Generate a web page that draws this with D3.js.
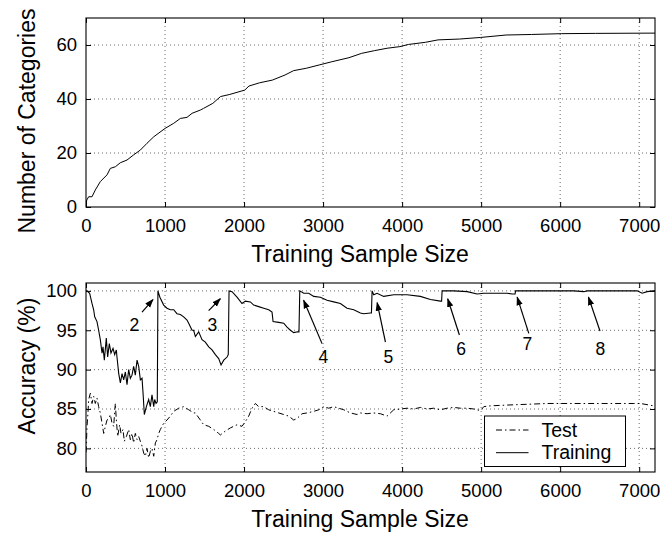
<!DOCTYPE html>
<html><head><meta charset="utf-8">
<script src="https://cdn.jsdelivr.net/npm/d3@7"></script>
<style>
body{margin:0;background:#fff;}
svg{display:block;font-family:"Liberation Sans",Arial,Helvetica,sans-serif;}
</style></head>
<body>
<svg id="chart" width="663" height="533"></svg>
<script>
// ---------- data ----------
const xTicks = [0,1000,2000,3000,4000,5000,6000,7000];
const catTicks = [0,20,40,60];
const accTicks = [80,85,90,95,100];

const catN = [0,10,34,76,118,181,266,308,371,435,519,603,688,772,857,1000,1110,1194,1278,1342,1447,1486,1605,1702,1820,2009,2062,2196,2358,2519,2627,2789,2950,3111,3327,3487,3649,3810,3972,4080,4295,4456,4725,4994,5316,5639,6016,6447,7200];
const catV = [1,2.6,3.8,3.8,6.3,9.4,11.9,14.3,14.9,16.4,17.4,19.3,21.1,23.6,26,29.1,31,32.8,33.2,34.7,35.9,36.5,38.4,40.9,41.7,43.3,44.8,46,47,48.9,50.5,51.4,52.6,53.8,55.3,56.9,57.9,58.8,59.4,60.2,61,61.9,62.2,62.8,63.7,63.9,64.2,64.3,64.4];

const trainN = [0,13,46,76,97,110,139,160,181,203,215,232,257,274,295,316,342,363,384,392,414,435,456,477,498,519,540,561,582,603,624,646,667,688,709,722,738,764,793,814,835,857,869,886,902,910,935,983,1025,1067,1110,1151,1194,1236,1278,1299,1342,1362,1384,1426,1468,1510,1553,1595,1637,1679,1709,1743,1785,1800,1810,1848,1911,1974,2017,2080,2122,2185,2249,2312,2354,2367,2439,2502,2544,2586,2628,2679,2695,2705,2755,2818,2882,2966,3050,3135,3219,3303,3388,3472,3514,3598,3612,3620,3641,3683,3767,3894,4063,4231,4358,4485,4500,4506,4654,4823,4949,5034,5203,5330,5393,5430,5435,6174,6300,6340,6974,7037,7100,7185,7200];
const trainV = [100,100,99.7,98.4,97.6,96.7,96.1,95,93.8,92.1,92.9,91.2,94,91.6,93.3,92.1,92.7,91.9,92.5,91.6,89.5,88.3,89.5,88.7,89.7,88.1,90,88.9,89.3,90.4,89.3,91.2,90.4,88.7,88.9,87,84.3,85.3,86.2,85.3,86.8,85.3,86.2,85.7,85.9,100,99.2,98.2,97.8,97.6,97.6,97.1,97.0,96.7,96.3,95.9,95.0,95,94.2,94.8,93.8,93.5,92.9,92.5,91.9,91.4,90.6,91.2,91.6,91.9,100,99.9,99.2,98.4,98.7,98.6,98.2,98,97.8,97.6,97.3,96.1,96,95.9,95.4,95,94.7,94.8,94.8,100,99.7,99.7,99.3,99.2,98.8,98.6,98.4,97.8,97.6,97.2,97.1,97.2,97.2,100,99.5,99.7,99.3,99.5,99.5,99.3,98.9,98.7,98.7,100,100,99.9,99.6,99.7,99.7,99.7,99.6,99.6,100,100,99.9,100,100,99.7,99.9,100,100];

const testN = [0,4,13,25,34,55,76,97,118,139,160,181,203,224,245,266,287,308,329,350,371,384,401,426,443,468,485,511,540,561,582,603,624,646,667,688,709,730,751,772,793,814,835,857,878,899,920,941,983,1025,1067,1110,1173,1236,1300,1363,1383,1447,1489,1553,1616,1679,1700,1763,1827,1911,1974,2017,2059,2101,2143,2185,2249,2312,2375,2439,2502,2565,2628,2671,2734,2797,2882,2945,3008,3072,3135,3198,3262,3346,3430,3472,3557,3641,3725,3810,3894,3978,4063,4147,4232,4316,4400,4485,4569,4654,4738,4823,4907,4991,5034,5118,5330,5583,5836,6174,6511,6933,7017,7185,7200];
const testV = [79.5,80.3,82.8,84.5,86.2,87,85.7,86.6,85.7,86.4,85.3,84.5,83.2,81.9,82.8,83.6,83.8,84.3,83.2,82.8,85.7,83.6,81.5,83,81.9,82.4,80.9,81.5,82.4,81.1,81.9,80.7,81.9,81.1,81.5,80.9,80.3,79.4,79,80,78.8,79.6,80,79,80.7,81.1,81.9,82.4,83.2,83.6,84.1,84.7,85.1,85.3,84.9,84.5,84.5,83.6,83,82.8,82.4,81.9,81.7,82.2,82.6,83,82.8,83.4,84.1,85.1,85.7,85.3,85.3,84.9,84.7,84.5,84.3,84.1,83.6,83.8,84.4,84.5,84.7,84.9,85.3,85.1,85.3,85.1,84.9,84.5,84.3,84.5,84.4,84.5,84.4,84.1,84.9,85,85.1,85,85.2,85,85.1,84.9,85.1,85.2,85.1,85.1,85,84.8,85.3,85.4,85.5,85.6,85.7,85.7,85.7,85.7,85.7,85.4,85.3];

// annotations (data coordinates): label, label position, arrow tail, arrow head
const annLabels = ["2","3","4","5","6","7","8"];
const annTextN  = [611,1599,3004,3827,4747,5586,6510];
const annTextV  = [94.9,94.9,90.9,90.9,91.9,92.5,91.9];
const annTailN  = [709,1552,2987,3789,4725,5603,6504];
const annTailV  = [97.3,97.5,93.3,93.5,94.4,94.6,94.9];
const annHeadN  = [848,1700,2754,3684,4577,5456,6358];
const annHeadV  = [98.9,99.0,98.8,98.5,99.0,99.2,99.2];

const legendLabels = ["Test","Training"];

// ---------- drawing ----------
const svg = d3.select("#chart");
const L = 86, R = 655;
const x = d3.scaleLinear().domain([0,7200]).range([L,R]);
const yTop = d3.scaleLinear().domain([0,70]).range([207,18]);
const yBot = d3.scaleLinear().domain([77,101]).range([472,283]);
const tickFont = "18.5px", titleFont = "23px";
const dash = "6,3,1.5,3";

const defs = svg.append("defs");
defs.append("marker").attr("id","arr").attr("viewBox","0 0 10 10")
  .attr("refX",9).attr("refY",5).attr("markerWidth",9).attr("markerHeight",9)
  .attr("markerUnits","userSpaceOnUse").attr("orient","auto")
  .append("path").attr("d","M0,1.5 L10,5 L0,8.5 Z").attr("fill","#000");

function panel(y, yticks, id) {
  const g = svg.append("g");
  const [y0,y1] = y.range();
  defs.append("clipPath").attr("id",id).append("rect")
    .attr("x",L).attr("y",y1).attr("width",R-L).attr("height",y0-y1);
  const grid = g.append("g").attr("stroke","#444").attr("stroke-width",0.8).attr("stroke-dasharray","1,3");
  xTicks.filter(t=>t>0).forEach(t=>grid.append("line").attr("x1",x(t)).attr("x2",x(t)).attr("y1",y0).attr("y2",y1));
  yticks.filter(t=>y(t)<y0-1).forEach(t=>grid.append("line").attr("x1",L).attr("x2",R).attr("y1",y(t)).attr("y2",y(t)));
  const ax = d3.axisBottom(x).tickValues(xTicks).tickSize(-5).tickPadding(9).tickFormat(d3.format("d"));
  const gb = g.append("g").attr("transform",`translate(0,${y0})`).call(ax);
  const gt = g.append("g").attr("transform",`translate(0,${y1})`).call(d3.axisTop(x).tickValues(xTicks).tickSize(-5).tickFormat(""));
  const gl = g.append("g").attr("transform",`translate(${L},0)`).call(d3.axisLeft(y).tickValues(yticks).tickSize(-5).tickPadding(9));
  const gr = g.append("g").attr("transform",`translate(${R},0)`).call(d3.axisRight(y).tickValues(yticks).tickSize(-5).tickFormat(""));
  [gb,gt,gl,gr].forEach(a=>{
    a.select(".domain").remove();
    a.selectAll("line").attr("stroke","#000");
    a.selectAll("text").attr("font-size",tickFont).attr("fill","#000").attr("font-family","Liberation Sans, Arial, sans-serif");
  });
  gb.selectAll("text").attr("dy","0").attr("y",25);
  g.append("rect").attr("x",L).attr("y",y1).attr("width",R-L).attr("height",y0-y1)
    .attr("fill","none").attr("stroke","#000").attr("stroke-width",1.1);
  return g;
}

panel(yTop, catTicks, "clipTop");
panel(yBot, accTicks, "clipBot");

const catData = catN.map((n,i)=>[n,catV[i]]);
svg.append("path").datum(catData).attr("clip-path","url(#clipTop)")
  .attr("d", d3.line().x(d=>x(d[0])).y(d=>yTop(d[1])))
  .attr("fill","none").attr("stroke","#000").attr("stroke-width",1);

const trainData = trainN.map((n,i)=>[n,trainV[i]]);
const testData = testN.map((n,i)=>[n,testV[i]]);
const lineB = d3.line().x(d=>x(d[0])).y(d=>yBot(d[1]));
svg.append("path").datum(testData).attr("clip-path","url(#clipBot)")
  .attr("d",lineB).attr("fill","none").attr("stroke","#000").attr("stroke-width",1).attr("stroke-dasharray",dash);
svg.append("path").datum(trainData).attr("clip-path","url(#clipBot)")
  .attr("d",lineB).attr("fill","none").attr("stroke","#000").attr("stroke-width",1.1);

annLabels.forEach((lab,i)=>{
  svg.append("line").attr("x1",x(annTailN[i])).attr("y1",yBot(annTailV[i]))
    .attr("x2",x(annHeadN[i])).attr("y2",yBot(annHeadV[i]))
    .attr("stroke","#000").attr("stroke-width",1.2).attr("marker-end","url(#arr)");
  svg.append("text").attr("x",x(annTextN[i])).attr("y",yBot(annTextV[i]))
    .attr("text-anchor","middle").attr("font-size","17.5px").text(lab);
});

svg.append("text").attr("x",360).attr("y",262).attr("text-anchor","middle").attr("font-size",titleFont).text("Training Sample Size");
svg.append("text").attr("x",360).attr("y",527).attr("text-anchor","middle").attr("font-size",titleFont).text("Training Sample Size");
svg.append("text").attr("transform","translate(35,121) rotate(-90)").attr("text-anchor","middle").attr("font-size",titleFont).text("Number of Categories");
svg.append("text").attr("transform","translate(35,366) rotate(-90)").attr("text-anchor","middle").attr("font-size",titleFont).text("Accuracy (%)");

const lg = svg.append("g");
lg.append("rect").attr("x",484.5).attr("y",416).attr("width",141).attr("height",50.5)
  .attr("fill","#fff").attr("stroke","#000").attr("stroke-width",1);
legendLabels.forEach((lab,i)=>{
  const yy = 430 + i*22.7;
  lg.append("line").attr("x1",496).attr("x2",528.5).attr("y1",yy).attr("y2",yy)
    .attr("stroke","#000").attr("stroke-width",1).attr("stroke-dasharray", i===0?dash:null);
  lg.append("text").attr("x",541.5).attr("y",yy+6.5).attr("font-size","19.5px").text(lab);
});
</script>
</body></html>
